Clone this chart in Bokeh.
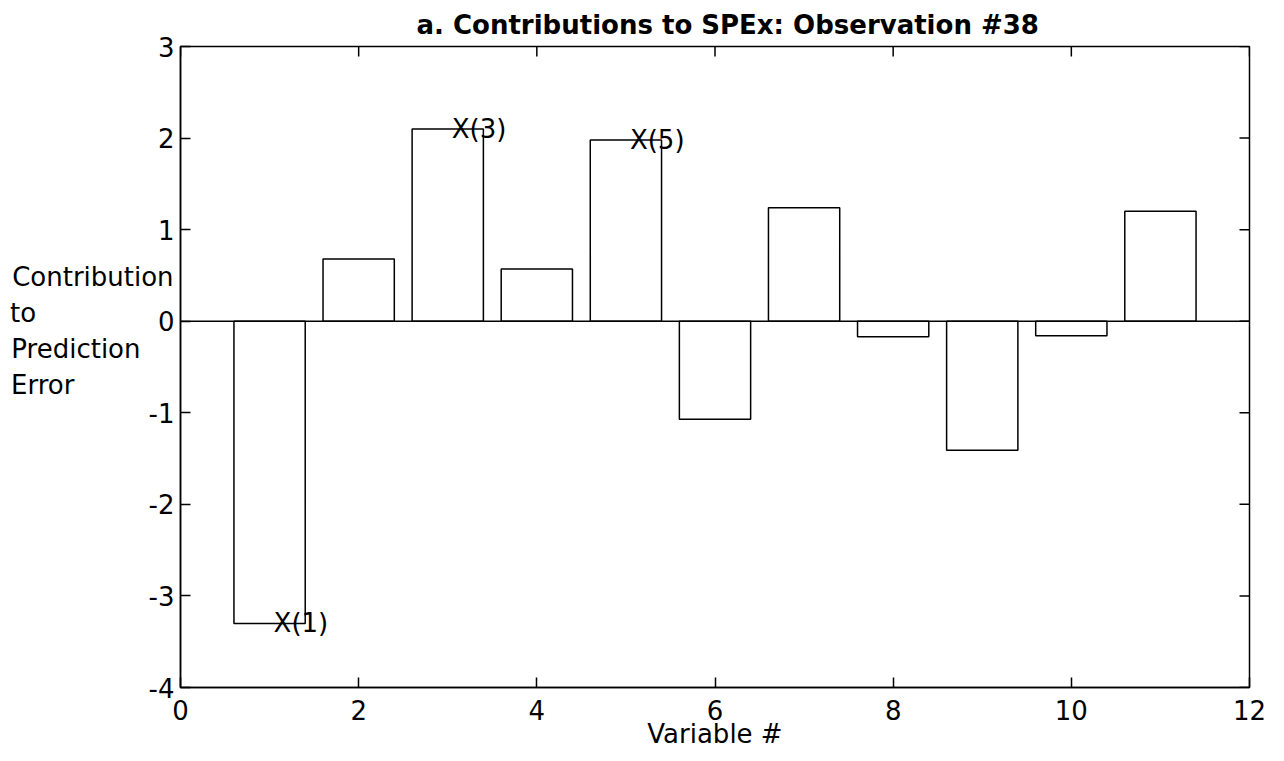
import math
from bokeh.plotting import figure
from bokeh.models import Range1d, FixedTicker, Span, ColumnDataSource
from bokeh.embed import file_html
from bokeh.resources import INLINE
from bokeh.core.properties import value

# ---- data ----
variables = [1, 2, 3, 4, 5, 6, 7, 8, 9, 10, 11]
contributions = [-3.30, 0.68, 2.10, 0.57, 1.98, -1.07, 1.24, -0.17, -1.41, -0.16, 1.20]
labeled_vars = [1, 3, 5]
labels = ["X(1)", "X(3)", "X(5)"]
x_ticks = [0, 2, 4, 6, 8, 10, 12]
x_tick_labels = ["0", "2", "4", "6", "8", "10", "12"]
y_ticks = [-4, -3, -2, -1, 0, 1, 2, 3]
y_tick_labels = ["-4", "-3", "-2", "-1", "0", "1", "2", "3"]
ylabel_lines = ["Contribution", "to", "Prediction", "Error"]
title_text = "a. Contributions to SPEx: Observation #38"
xlabel_text = "Variable #"

FONT = "DejaVu Sans"
FS = "26px"
X0, X1 = 0, 12
Y0, Y1 = -4, 3

p = figure(width=1284, height=761, output_backend="svg", toolbar_location=None,
           x_range=Range1d(X0, X1), y_range=Range1d(Y0, Y1),
           min_border_left=180, min_border_right=35, min_border_top=46, min_border_bottom=74)
p.background_fill_color = "white"
p.border_fill_color = "white"
p.outline_line_color = "black"
p.outline_line_width = 1.5
p.xgrid.visible = False
p.ygrid.visible = False

p.title.text = title_text
p.title.text_font = FONT
p.title.text_font_size = FS
p.title.text_font_style = "bold"
p.title.text_color = "black"
p.title.align = "left"
p.title.standoff = 13
p.title.offset = 236

def style_axis(ax, ticks, tick_labels):
    ax.ticker = FixedTicker(ticks=ticks)
    ax.major_label_overrides = {t: l for t, l in zip(ticks, tick_labels)}
    ax.minor_tick_line_color = None
    ax.major_tick_in = 10
    ax.major_tick_out = 0
    ax.major_tick_line_color = "black"
    ax.major_tick_line_width = 1.5
    ax.axis_line_color = "black"
    ax.axis_line_width = 1.5
    ax.major_label_text_font = FONT
    ax.major_label_text_color = "black"
    ax.major_label_text_font_size = FS
    ax.axis_label_text_font = FONT
    ax.axis_label_text_font_size = FS
    ax.axis_label_text_font_style = "normal"
    ax.axis_label_text_color = "black"

xa = p.xaxis[0]
ya = p.yaxis[0]
style_axis(xa, x_ticks, x_tick_labels)
style_axis(ya, y_ticks, y_tick_labels)
xa.major_label_standoff = 12
ya.major_label_standoff = 6
xa.axis_label = xlabel_text
xa.axis_label_standoff = -4

# multi-line horizontal y label; lines are padded with no-break spaces so that
# they start at the same left edge (the axis right-aligns them)
NBSP = "\u00a0"
THIN = "\u2009"
pads = ["", NBSP * 16 + THIN, NBSP * 4, NBSP * 12]
ylabel = "\n".join(line + pad for line, pad in zip(ylabel_lines, pads))
ya.axis_label = ylabel + "\n" + NBSP + "\n" + NBSP
ya.axis_label_orientation = "horizontal"
ya.axis_label_text_align = "left"
ya.axis_label_text_line_height = 1.2
ya.axis_label_standoff = -28

# inward ticks on the top and right edges of the box (half of each dash is clipped)
p.scatter(x=x_ticks, y=[Y1] * len(x_ticks), marker="dash", size=20, angle=math.pi / 2,
          line_color="black", line_width=1.5)
p.scatter(x=[X1] * len(y_ticks), y=y_ticks, marker="dash", size=20, angle=0,
          line_color="black", line_width=1.5)

# baseline of bar chart
p.add_layout(Span(location=0, dimension="width", line_color="black", line_width=1.5))

src = ColumnDataSource(dict(x=variables, top=contributions))
p.vbar(x="x", top="top", bottom=0, width=0.8, source=src,
       fill_color="white", line_color="black", line_width=1.5)

lab_src = ColumnDataSource(dict(x=labeled_vars,
                                y=[contributions[v - 1] for v in labeled_vars],
                                text=labels))
p.text(x="x", y="y", text="text", source=lab_src, text_font=value(FONT),
       text_font_size=FS, text_align="left", text_baseline="middle", text_color="black",
       x_offset=4)

open("out.html", "w").write(file_html(p, INLINE))
